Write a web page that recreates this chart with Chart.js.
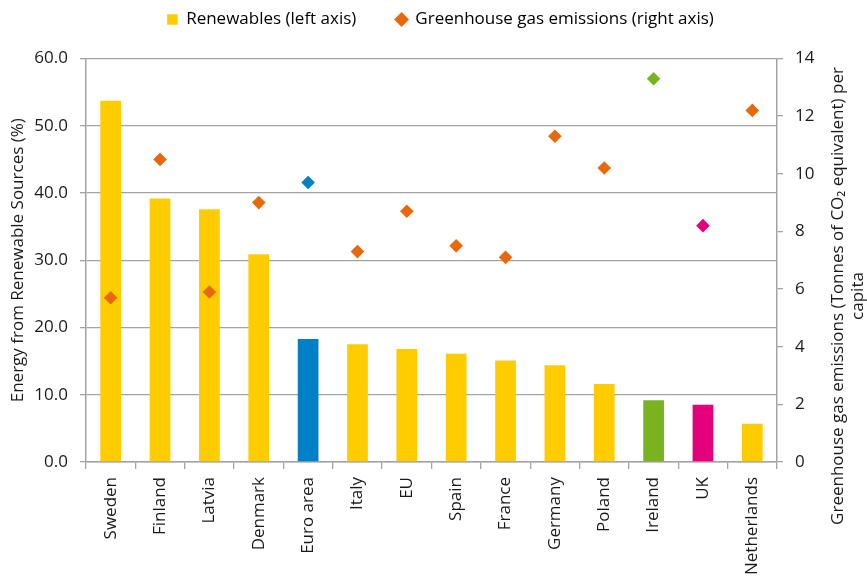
<!DOCTYPE html>
<html>
<head>
<meta charset="utf-8">
<script src="https://cdn.jsdelivr.net/npm/chart.js@4.4.1/dist/chart.umd.min.js"></script>
<style>
  html, body { margin: 0; padding: 0; background: #ffffff; }
  #wrap { width: 867px; height: 576px; }
</style>
</head>
<body>
<div id="wrap"><canvas id="c" width="867" height="576"></canvas></div>
<script>
const categories = ["Sweden", "Finland", "Latvia", "Denmark", "Euro area", "Italy", "EU", "Spain", "France", "Germany", "Poland", "Ireland", "UK", "Netherlands"];
const renewables = [53.7, 39.2, 37.6, 30.9, 18.3, 17.5, 16.8, 16.1, 15.1, 14.4, 11.6, 9.2, 8.5, 5.7];
const emissions = [5.7, 10.5, 5.9, 9.0, 9.7, 7.3, 8.7, 7.5, 7.1, 11.3, 10.2, 13.3, 8.2, 12.2];
const leftTicks = [0, 10, 20, 30, 40, 50, 60];
const rightTicks = [0, 2, 4, 6, 8, 10, 12, 14];
const seriesNames = ["Renewables (left axis)", "Greenhouse gas emissions (right axis)"];
const leftTitle = "Energy from Renewable Sources (%)";
const rightTitle = ["Greenhouse gas emissions (Tonnes of CO\u2082 equivalent) per", "capita"];

const YELLOW = "#FFCC00", ORANGE = "#E8690B", BLUE = "#0080C6", GREEN = "#7AB320", MAGENTA = "#E3007A";
const special = { "Euro area": BLUE, "Ireland": GREEN, "UK": MAGENTA };
const barColors = categories.map(c => special[c] || YELLOW);
const pointColors = categories.map(c => special[c] || ORANGE);
const GRID = "#a3a3a3";
const TEXT = "#1a1a1a";
const FONT = "'Open Sans'";

const rightTitlePlugin = {
  id: "rightTitle",
  afterDraw(chart) {
    const s = chart.scales.y2;
    const ctx = chart.ctx;
    ctx.save();
    ctx.fillStyle = TEXT;
    ctx.font = "17px " + FONT;
    ctx.textAlign = "center";
    ctx.textBaseline = "middle";
    const cy = 296;
    const xs = [s.right - 29, s.right - 9];
    rightTitle.forEach((t, i) => {
      ctx.save();
      ctx.translate(xs[i], cy);
      ctx.rotate(-Math.PI / 2);
      ctx.fillText(t, 0, 0);
      ctx.restore();
    });
    ctx.restore();
  }
};

const legendSpacer = {
  id: "legendSpacer",
  beforeLayout(chart) {
    const lg = chart.legend;
    if (lg && !lg._spaced) {
      const orig = lg.fit.bind(lg);
      lg.fit = function () { orig(); this.height = 87.5; };
      lg._spaced = true;
    }
  },
  afterLayout(chart) {
    const lg = chart.legend;
    if (lg) { lg.left += 7; lg.right += 7; }
  }
};

new Chart(document.getElementById("c"), {
  data: {
    labels: categories,
    datasets: [
      {
        type: "line",
        label: seriesNames[1],
        data: emissions,
        yAxisID: "y2",
        showLine: false,
        pointStyle: "rectRot",
        pointRadius: 6.8,
        pointHoverRadius: 6.8,
        pointBackgroundColor: pointColors,
        pointBorderColor: pointColors,
        pointBorderWidth: 0,
        order: 0
      },
      {
        type: "bar",
        label: seriesNames[0],
        data: renewables,
        yAxisID: "y",
        backgroundColor: barColors,
        borderWidth: 0,
        categoryPercentage: 1.0,
        barPercentage: 0.42,
        order: 1
      }
    ]
  },
  options: {
    responsive: false,
    animation: false,
    devicePixelRatio: 1,
    layout: { padding: { top: -29, left: 0, right: 0, bottom: 0 } },
    plugins: {
      tooltip: { enabled: false },
      legend: {
        display: true,
        position: "top",
        labels: {
          color: TEXT,
          font: { family: FONT, size: 17 },
          usePointStyle: true,
          boxWidth: 10.5,
          boxHeight: 10.5,
          padding: 40,
          generateLabels() {
            return [
              { text: seriesNames[0], fillStyle: YELLOW, strokeStyle: YELLOW, lineWidth: 0, pointStyle: "rect", datasetIndex: 1 },
              { text: seriesNames[1], fillStyle: ORANGE, strokeStyle: ORANGE, lineWidth: 0, pointStyle: "rectRot", datasetIndex: 0 }
            ];
          }
        }
      }
    },
    scales: {
      x: {
        offset: true,
        grid: { display: true, drawOnChartArea: false, offset: true, color: GRID, lineWidth: 1.3, tickLength: 7 },
        border: { color: GRID, width: 1.5 },
        ticks: {
          color: TEXT,
          font: { family: FONT, size: 17 },
          maxRotation: 90, minRotation: 90,
          padding: 8,
          autoSkip: false
        },
        afterFit(s) { s.height = 114; }
      },
      y: {
        position: "left",
        min: 0, max: 60,
        afterBuildTicks(s) { s.ticks = leftTicks.map(v => ({ value: v })); },
        grid: { color: GRID, lineWidth: 1.3, tickLength: 6 },
        border: { color: GRID, width: 1.5 },
        ticks: {
          color: TEXT,
          font: { family: FONT, size: 17 },
          padding: 12,
          callback: v => Number(v).toFixed(1)
        },
        title: {
          display: true,
          text: leftTitle,
          color: TEXT,
          font: { family: FONT, size: 17 },
          padding: { top: 8, bottom: 0 }
        },
        afterFit(s) { s.width = 86; }
      },
      y2: {
        position: "right",
        min: 0, max: 14,
        afterBuildTicks(s) { s.ticks = rightTicks.map(v => ({ value: v })); },
        grid: { drawOnChartArea: false, color: GRID, lineWidth: 1.3, tickLength: 6 },
        border: { color: GRID, width: 1.5 },
        ticks: {
          color: TEXT,
          font: { family: FONT, size: 17 },
          padding: 12,
          callback: v => String(v)
        },
        afterFit(s) { s.width = 90; }
      }
    }
  },
  plugins: [rightTitlePlugin, legendSpacer]
});
</script>
</body>
</html>
